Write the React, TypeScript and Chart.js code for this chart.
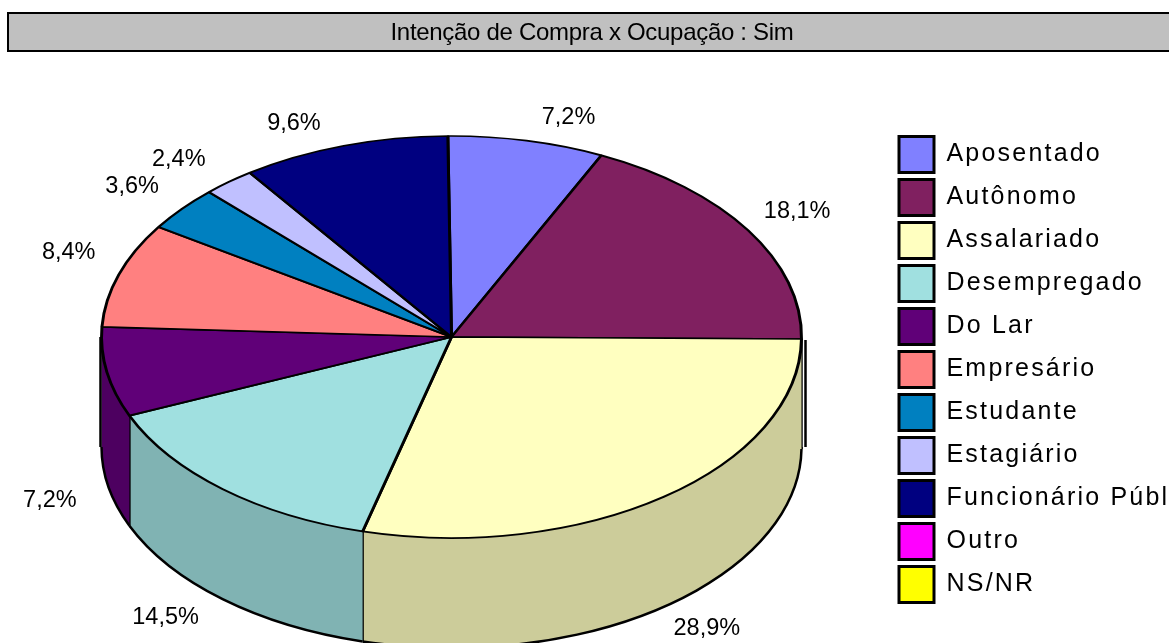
import React, { useEffect, useRef } from "react";
import { Chart, registerables } from "chart.js";

Chart.register(...registerables);

const titleText = "Intenção de Compra x Ocupação : Sim";
const categories = ["Aposentado", "Autônomo", "Assalariado", "Desempregado", "Do Lar", "Empresário", "Estudante", "Estagiário", "Funcionário Público", "Outro", "NS/NR"];
const values = [7.2, 18.1, 28.9, 14.5, 7.2, 8.4, 3.6, 2.4, 9.6, 0, 0];
const colors = ["#8080FF", "#802060", "#FFFFC0", "#A0E0E0", "#600078", "#FF8080", "#0080C0", "#C0C0FF", "#000080", "#FF00FF", "#FFFF00"];

const FONT = "'Liberation Sans', Arial, sans-serif";
const CX = 451.5;
const CY = 337;
const RX = 350;
const RY = 201;
const DEPTH = 110;
const SQUASH = RY / RX;
const LEGEND_X = 899;
const LEGEND_Y = 136.5;

function darken(hex: string) {
  const n = parseInt(hex.slice(1), 16);
  const f = (v: number) => Math.round(v * 0.8);
  return `rgb(${f((n >> 16) & 255)},${f((n >> 8) & 255)},${f(n & 255)})`;
}

const pie3d = {
  id: "pie3d",
  beforeDraw(chart: any) {
    const ctx = chart.ctx;
    ctx.save();
    ctx.fillStyle = "#C0C0C0";
    ctx.strokeStyle = "#000";
    ctx.lineWidth = 2;
    ctx.fillRect(8, 13, 1170, 38);
    ctx.strokeRect(8, 13, 1170, 38);
    ctx.restore();
    const legend = chart.legend;
    if (!legend.__wrapped) {
      legend.__wrapped = true;
      const orig = legend.draw.bind(legend);
      legend.draw = () => {
        const c = chart.ctx;
        c.save();
        c.translate(LEGEND_X - (legend.left + 7), LEGEND_Y - (legend.top + 7));
        c.letterSpacing = "2.2px";
        orig();
        c.restore();
      };
      const block = chart.titleBlock;
      const origTitle = block.draw.bind(block);
      block.draw = () => {
        const c = chart.ctx;
        c.save();
        c.letterSpacing = "-0.3px";
        origTitle();
        c.restore();
      };
    }
  },
  beforeDatasetsDraw(chart: any) {
    const ctx = chart.ctx;
    const arcs = chart.getDatasetMeta(0).data;
    ctx.save();
    ctx.strokeStyle = "#000";
    ctx.lineWidth = 2.5;
    arcs.forEach((arc: any, i: number) => {
      if (!values[i]) return;
      const lo = Math.max(arc.startAngle, 0);
      const hi = Math.min(arc.endAngle, Math.PI);
      if (hi <= lo) return;
      ctx.beginPath();
      ctx.ellipse(CX, CY, RX, RY, 0, lo, hi);
      ctx.lineTo(CX + RX * Math.cos(hi), CY + RY * Math.sin(hi) + DEPTH);
      ctx.ellipse(CX, CY + DEPTH, RX, RY, 0, hi, lo, true);
      ctx.closePath();
      ctx.fillStyle = darken(colors[i]);
      ctx.fill();
      ctx.beginPath();
      ctx.ellipse(CX, CY + DEPTH, RX, RY, 0, lo, hi);
      ctx.stroke();
      if (hi < Math.PI) {
        const x = CX + RX * Math.cos(hi);
        const y = CY + RY * Math.sin(hi);
        ctx.beginPath();
        ctx.moveTo(x, y);
        ctx.lineTo(x, y + DEPTH);
        ctx.stroke();
      }
    });
    // outer edges of the wall
    ctx.beginPath();
    ctx.moveTo(CX + RX + 4, CY + 3);
    ctx.lineTo(CX + RX + 4, CY + DEPTH);
    ctx.moveTo(CX - RX - 1, CY);
    ctx.lineTo(CX - RX - 1, CY + DEPTH);
    ctx.stroke();
    ctx.restore();

    const a = arcs[0];
    ctx.save();
    ctx.translate(CX, CY);
    ctx.scale(1, SQUASH);
    ctx.translate(-a.x, -a.y);
  },
  afterDatasetsDraw(chart: any) {
    const ctx = chart.ctx;
    ctx.restore();
    const arcs = chart.getDatasetMeta(0).data;
    ctx.save();
    ctx.font = `23.5px ${FONT}`;
    ctx.fillStyle = "#000";
    ctx.textAlign = "center";
    ctx.textBaseline = "middle";
    arcs.forEach((arc: any, i: number) => {
      if (!values[i]) return;
      const mid = (arc.startAngle + arc.endAngle) / 2;
      const c = Math.cos(mid);
      const s = Math.sin(mid);
      const lower = s > 0 && mid < Math.PI;
      let dx: number;
      let dy: number;
      if (lower) {
        dx = c >= 0 ? 43 : -57;
        dy = DEPTH + (c >= 0 ? 22 : 18);
      } else {
        dx = c >= 0 ? (i === 0 ? 42 : 49) : -50;
        dy = c >= 0 ? (i === 0 ? -23 : -19) : -22;
      }
      ctx.fillText(values[i].toFixed(1).replace(".", ",") + "%", CX + RX * c + dx, CY + RY * s + dy);
    });
    ctx.restore();
  },
};

export default function App() {
  const ref = useRef<HTMLCanvasElement>(null);
  useEffect(() => {
    const chart = new Chart(ref.current as HTMLCanvasElement, {
      type: "pie",
      data: {
        labels: categories,
        datasets: [
          {
            data: values,
            backgroundColor: colors,
            borderColor: "#000",
            borderWidth: 3,
            radius: RX,
            rotation: -0.6,
            clip: false,
          } as any,
        ],
      },
      options: {
        responsive: false,
        animation: false,
        events: [],
        layout: { padding: { left: 15 } },
        plugins: {
          tooltip: { enabled: false },
          title: {
            display: true,
            text: titleText,
            color: "#000",
            font: { family: FONT, size: 24, weight: "normal" },
            padding: { top: 19, bottom: 80 },
          },
          legend: {
            display: true,
            position: "right",
            align: "start",
            maxWidth: 277,
            labels: {
              boxWidth: 35,
              boxHeight: 36,
              padding: 7,
              color: "#000",
              font: { family: FONT, size: 25 },
            },
          },
        },
      },
      plugins: [pie3d],
    } as any);
    return () => chart.destroy();
  }, []);
  return (
    <div style={{ position: "fixed", left: 0, top: 0, width: 1169, height: 643, overflow: "hidden", background: "#fff" }}>
      <canvas ref={ref} width={1169} height={643} style={{ display: "block" }} />
    </div>
  );
}
